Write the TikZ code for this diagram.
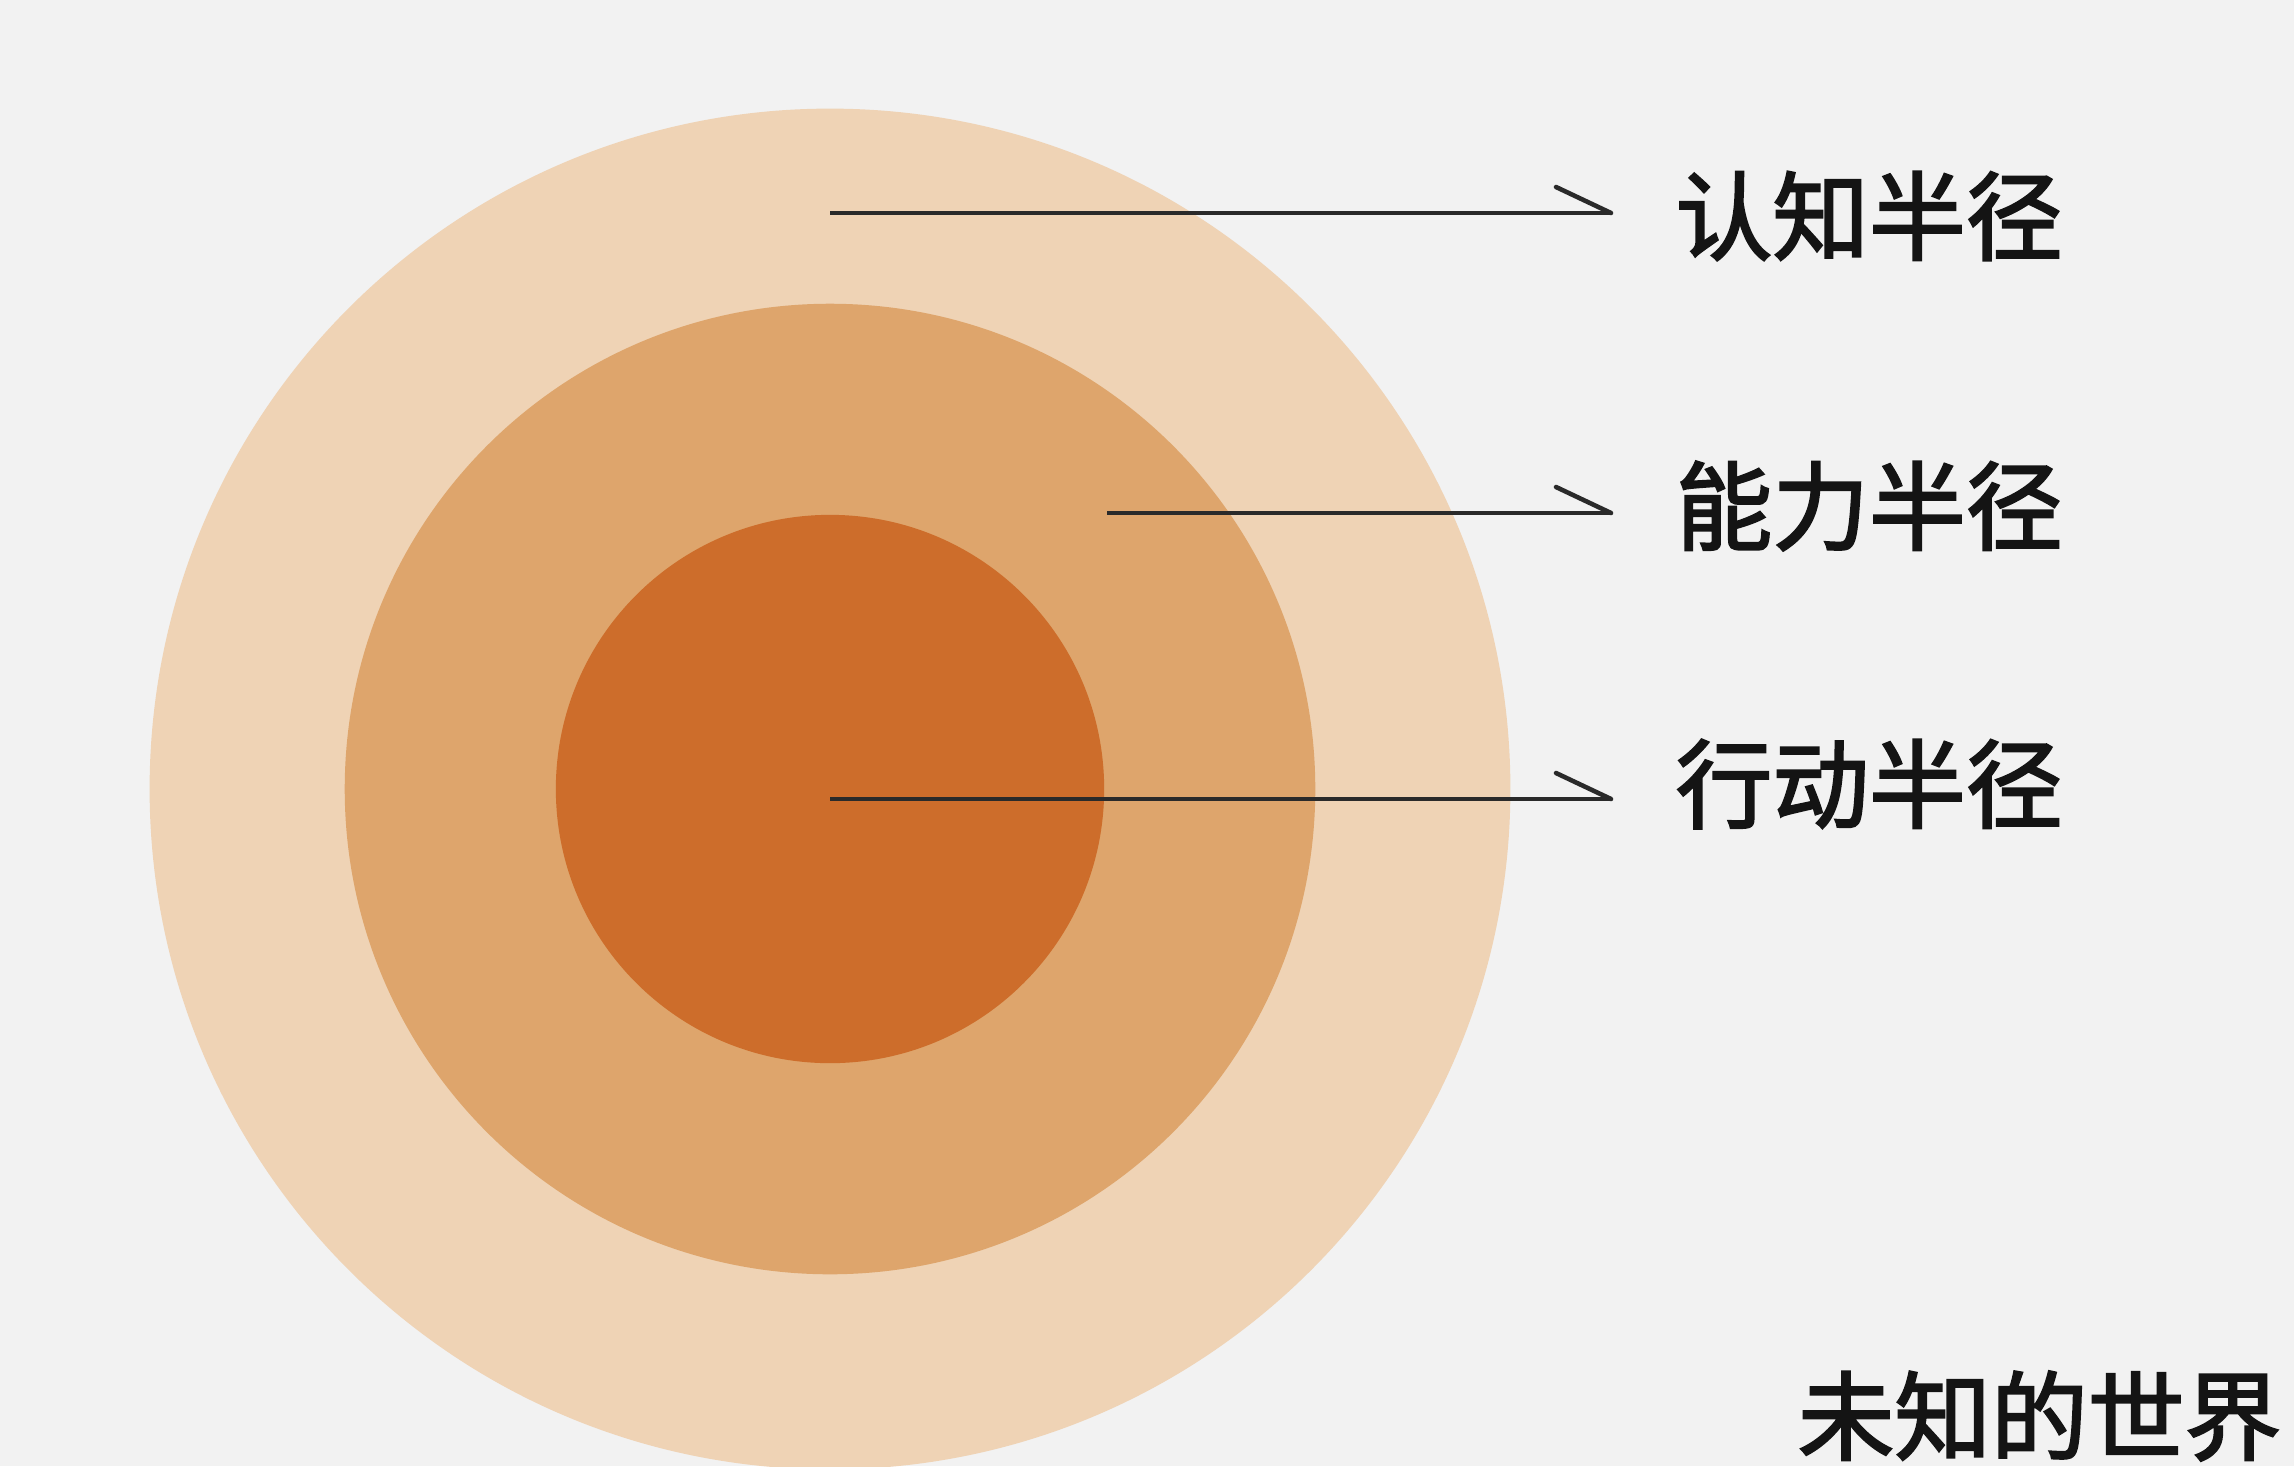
\documentclass[tikz,border=0pt]{standalone}
\usepackage{fontspec}
\newfontfamily\cjk[FakeBold=2.2]{Noto Sans CJK SC}
\definecolor{bgc}{HTML}{F2F2F2}
\definecolor{ringA}{HTML}{EFD3B5}
\definecolor{ringB}{HTML}{DEA56C}
\definecolor{ringC}{HTML}{CD6D2B}
\definecolor{linec}{HTML}{2A2A2A}
\tikzset{
  lbl/.style={anchor=west,inner sep=0pt,font=\cjk\fontsize{27.5}{30}\selectfont,text=black!92},
  pointer/.style={draw=linec,line width=1.3pt},
  barb/.style={draw=linec,line width=1.3pt,line cap=round}
}
\begin{document}
\begin{tikzpicture}[x=0.01cm,y=-0.01cm]
\useasboundingbox (0,0) rectangle (2294,1466);
\clip (0,0) rectangle (2294,1466);
\fill[bgc] (0,0) rectangle (2294,1466);
% circles
\coordinate (c) at (830,789);
\fill[ringA] (c) circle[radius=6.8cm];
\fill[ringB] (c) circle[radius=4.85cm];
\fill[ringC] (c) circle[radius=2.74cm];
% labels
\node[lbl] (l1) at (1675,216) {认知半径};
\node[lbl] (l2) at (1675,506) {能力半径};
\node[lbl] (l3) at (1675,784) {行动半径};
\node[lbl] (l4) at (1797,1416) {未知的世界};
% pointer coordinates
\coordinate (s1) at (830,213);
\coordinate (t1) at (1611,213);
\coordinate (s2) at (1107,513);
\coordinate (t2) at (1611,513);
\coordinate (s3) at (830,799);
\coordinate (t3) at (1611,799);
\draw[pointer] (s1) -- (t1);
\draw[barb] (t1) -- ++(-55,-26);
\draw[pointer] (s2) -- (t2);
\draw[barb] (t2) -- ++(-55,-26);
\draw[pointer] (s3) -- (t3);
\draw[barb] (t3) -- ++(-55,-26);
\end{tikzpicture}
\end{document}
